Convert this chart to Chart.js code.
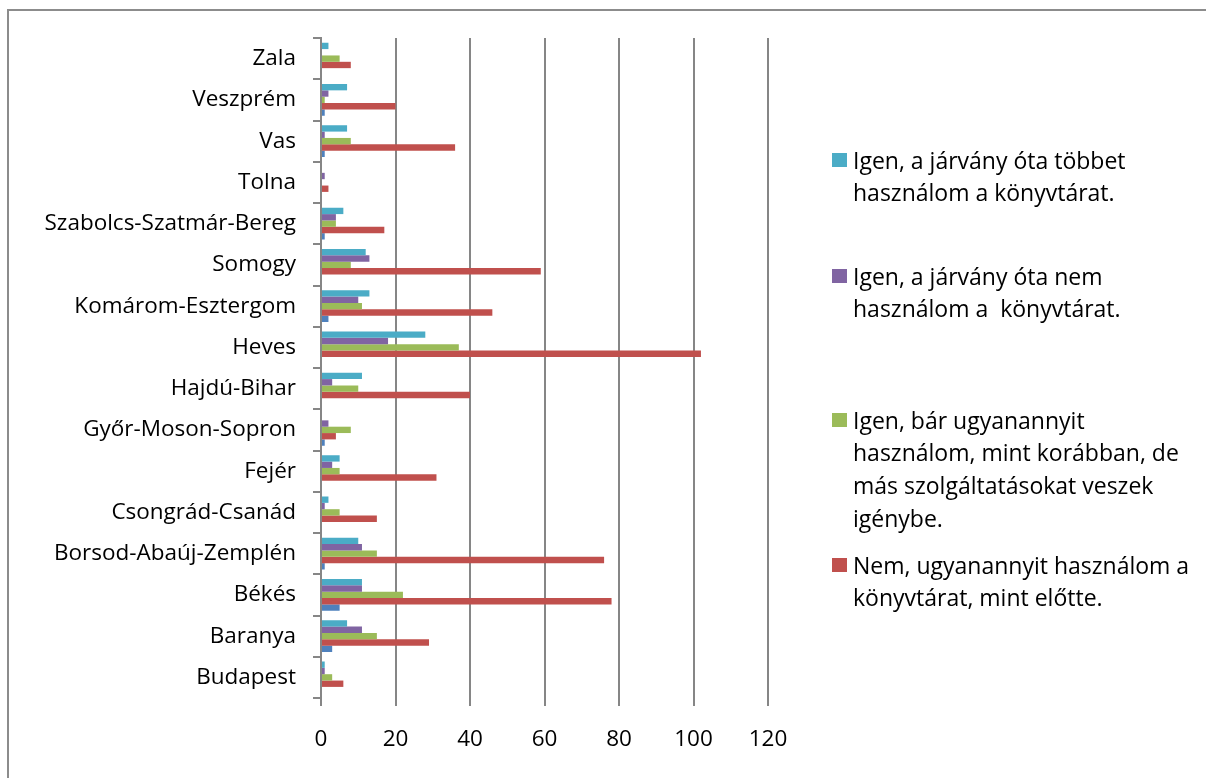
<!DOCTYPE html>
<html>
<head>
<meta charset="utf-8">
<script src="https://cdn.jsdelivr.net/npm/chart.js@4/dist/chart.umd.min.js"></script>
<style>
  html, body { margin:0; padding:0; background:#fff; }
  #wrap { position:relative; width:1206px; height:778px; overflow:hidden; font-family:"Open Sans", sans-serif; }
  #frame { position:absolute; left:7px; top:9px; width:1400px; height:1000px; border-top:2px solid #8c8c8c; border-left:2px solid #8c8c8c; box-sizing:border-box; }
  canvas { position:absolute; left:0; top:0; }
  .lg { position:absolute; left:832px; font-size:23px; line-height:32.7px; color:#000; }
  .lg .sw { position:absolute; left:0; top:9px; width:15px; height:14px; }
  .lg .tx { position:absolute; left:21px; white-space:nowrap; }
</style>
</head>
<body>
<div id="wrap">
  <div id="frame"></div>
  <canvas id="c" width="1206" height="778"></canvas>
  <div id="legend"></div>
</div>
<script>
const categories = ["Zala","Veszprém","Vas","Tolna","Szabolcs-Szatmár-Bereg","Somogy","Komárom-Esztergom","Heves","Hajdú-Bihar","Győr-Moson-Sopron","Fejér","Csongrád-Csanád","Borsod-Abaúj-Zemplén","Békés","Baranya","Budapest"];
const seriesNames = [
  "Igen, a járvány óta többet használom a könyvtárat.",
  "Igen, a járvány óta nem használom a  könyvtárat.",
  "Igen, bár ugyanannyit használom, mint korábban, de más szolgáltatásokat veszek igénybe.",
  "Nem, ugyanannyit használom a könyvtárat, mint előtte.",
  ""
];
const legendLines = [
  ["Igen, a járvány óta többet", "használom a könyvtárat."],
  ["Igen, a járvány óta nem", "használom a\u00a0 könyvtárat."],
  ["Igen, bár ugyanannyit", "használom, mint korábban, de", "más szolgáltatásokat veszek", "igénybe."],
  ["Nem, ugyanannyit használom a", "könyvtárat, mint előtte."]
];
const tobbet    = [2,7,7,0,6,12,13,28,11,0,5,2,10,11,7,1];
const nemHasz   = [0,2,1,1,4,13,10,18,3,2,3,1,11,11,11,1];
const masSzolg  = [5,1,8,0,4,8,11,37,10,8,5,5,15,22,15,3];
const ugyanaz   = [8,20,36,2,17,59,46,102,40,4,31,15,76,78,29,6];
const otodik    = [0,1,1,0,1,0,2,0,0,1,0,0,1,5,3,0];
const xTicks = [0,20,40,60,80,100,120];

const colors = ["#4BACC6","#8064A2","#9BBB59","#C0504D","#4F81BD"];
const values = [tobbet, nemHasz, masSzolg, ugyanaz, otodik];
const gridColor = "#868686";
const font = { family:"Open Sans", size:22.5 };

new Chart(document.getElementById("c"), {
  type: "bar",
  data: {
    labels: categories,
    datasets: values.map((v, i) => ({
      label: seriesNames[i],
      data: v,
      backgroundColor: colors[i],
      borderWidth: 0,
      categoryPercentage: 0.77,
      barPercentage: 1.0
    }))
  },
  options: {
    indexAxis: "y",
    responsive: false,
    animation: false,
    devicePixelRatio: 1,
    layout: { padding: { left: 0, right: 438, top: 38, bottom: 0 } },
    plugins: { legend: { display: false }, tooltip: { enabled: false } },
    scales: {
      x: {
        min: 0, max: 120,
        afterBuildTicks: (s) => { s.ticks = xTicks.map(v => ({ value: v })); },
        ticks: { font: font, color: "#000", padding: 20 },
        grid: { color: gridColor, lineWidth: 2, tickLength: 8, drawTicks: true },
        border: { display: false },
        afterFit: (s) => { s.height = 80; }
      },
      y: {
        type: "category",
        offset: true,
        ticks: { font: font, color: "#000", padding: 17, autoSkip: false },
        grid: { drawOnChartArea: false, drawTicks: true, tickLength: 8, offset: true, color: gridColor, lineWidth: 2 },
        border: { display: true, color: gridColor, width: 2 },
        afterFit: (s) => { s.width = 321; }
      }
    }
  }
});

const tops = [143.6, 259.6, 403.6, 548.6];
const lg = document.getElementById("legend");
legendLines.forEach((lines, i) => {
  const d = document.createElement("div");
  d.className = "lg";
  d.style.top = tops[i] + "px";
  const sw = document.createElement("div");
  sw.className = "sw";
  sw.style.background = colors[i];
  const tx = document.createElement("div");
  tx.className = "tx";
  tx.innerHTML = lines.map(l => l.replace(/&/g,"&amp;").replace(/</g,"&lt;")).join("<br>");
  d.appendChild(sw); d.appendChild(tx);
  lg.appendChild(d);
});
</script>
</body>
</html>
